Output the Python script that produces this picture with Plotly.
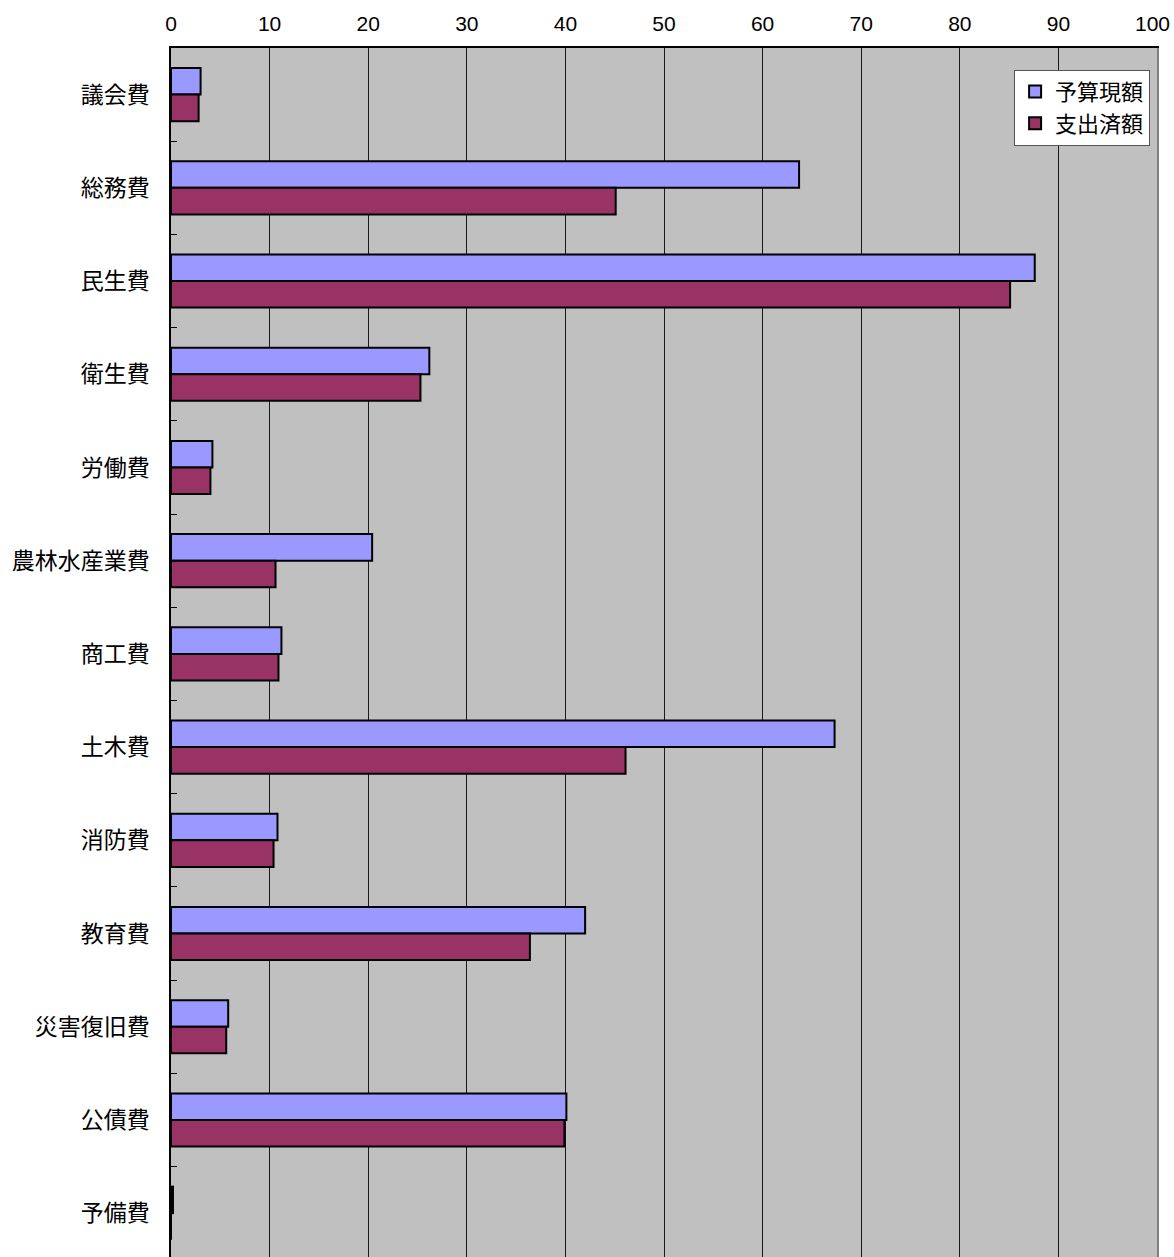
import plotly.graph_objects as go

categories = ["議会費", "総務費", "民生費", "衛生費", "労働費", "農林水産業費", "商工費",
              "土木費", "消防費", "教育費", "災害復旧費", "公債費", "予備費"]
budget = [3.0, 63.7, 87.6, 26.2, 4.2, 20.4, 11.2, 67.3, 10.8, 42.0, 5.8, 40.1, 0.2]
spent = [2.8, 45.1, 85.1, 25.3, 4.0, 10.6, 10.9, 46.1, 10.4, 36.4, 5.6, 39.9, 0.0]
x_ticks = [0, 10, 20, 30, 40, 50, 60, 70, 80, 90, 100]

pos = list(range(len(categories)))
bounds = [p + 0.5 for p in pos]

font = "Noto Sans CJK JP, Noto Sans, sans-serif"
numfont = "Liberation Sans, Arial, sans-serif"

# last tick label is drawn as an annotation so it is not clipped at the page edge
x_ticktext = [str(v) for v in x_ticks[:-1]] + [""]

fig = go.Figure()
fig.add_trace(go.Bar(y=pos, x=budget, orientation="h", name="予算現額", legendgroup="a",
                     marker=dict(color="#9999FF", line=dict(color="black", width=2))))
fig.add_trace(go.Bar(y=pos, x=spent, orientation="h", name="支出済額", legendgroup="b",
                     marker=dict(color="#993366", line=dict(color="black", width=2))))
fig.add_trace(go.Scatter(x=[None], y=[None], yaxis="y2", showlegend=False, hoverinfo="skip"))
fig.add_trace(go.Scatter(x=[None], y=[None], yaxis="y3", showlegend=False, hoverinfo="skip"))

fig.add_annotation(x=x_ticks[-1], xref="x", y=1, yref="paper", yanchor="bottom",
                   text=str(x_ticks[-1]), showarrow=False, xanchor="center", xshift=-5,
                   yshift=11, font=dict(family=numfont, size=21, color="black"))

yr = [12.47, -0.5]
fig.update_layout(
    width=1174, height=1257,
    margin=dict(l=171, r=17, t=48, b=0),
    paper_bgcolor="white", plot_bgcolor="#C0C0C0",
    barmode="group", bargap=0.43, bargroupgap=0,
    font=dict(family=font, size=20, color="black"),
    xaxis=dict(side="top", range=[0, 100], tickvals=x_ticks, ticktext=x_ticktext,
               showgrid=True, gridcolor="#1a1a1a", gridwidth=1,
               showline=True, linecolor="black", linewidth=1.5,
               ticks="", ticklabelstandoff=7, zeroline=False,
               tickfont=dict(family=numfont, size=21)),
    yaxis=dict(range=yr, tickvals=pos, ticktext=categories, ticks="",
               showgrid=False, zeroline=False, showline=True, linecolor="black",
               linewidth=1.5, ticklabelstandoff=15,
               tickfont=dict(family=font, size=23)),
    yaxis2=dict(overlaying="y", side="left", range=yr, tickvals=bounds,
                showticklabels=False, ticks="inside", ticklen=6, tickcolor="black",
                tickwidth=1, showgrid=False, zeroline=False, showline=False),
    yaxis3=dict(overlaying="y", side="right", range=yr, showticklabels=False,
                ticks="", showgrid=False, zeroline=False, showline=True,
                linecolor="#808080", linewidth=2),
    legend=dict(x=0.993, xanchor="right", y=0.982, yanchor="top",
                bgcolor="white", bordercolor="#555555", borderwidth=1,
                font=dict(family=font, size=22), tracegroupgap=0,
                itemwidth=30),
    showlegend=True,
)
fig.write_html("out.html", config={"displayModeBar": False},
               post_script="document.body.style.margin='0';document.body.style.overflow='hidden';")
